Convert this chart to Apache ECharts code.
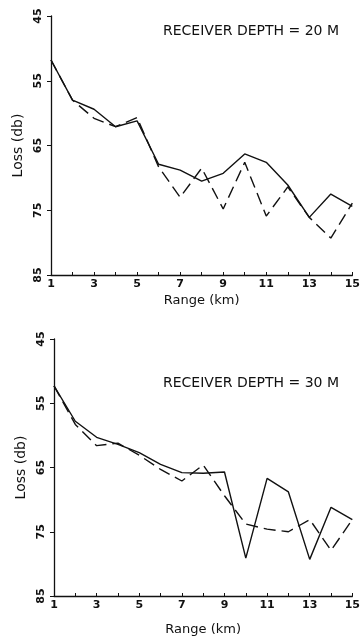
<!DOCTYPE html>
<html>
<head>
<meta charset="utf-8">
<script src="https://cdn.jsdelivr.net/npm/echarts@6/dist/echarts.min.js"></script>
<style>
  html, body { margin: 0; padding: 0; background: #fff; }
  #chart { width: 363px; height: 637px; }
</style>
</head>
<body>
<div id="chart"></div>
<script>
// дальность, км
const ranges = [1, 2, 3, 4, 5, 6, 7, 8, 9, 10, 11, 12, 13, 14, 15];

// глубина приёмника 20 м
const solid20 = [51.8, 58.0, 59.4, 62.1, 61.2, 67.9, 68.8, 70.5, 69.3, 66.3, 67.6, 71.1, 76.1, 72.5, 74.4];
const dashed20 = [51.8, 58.0, 60.8, 62.1, 60.7, 68.3, 73.0, 68.5, 74.8, 67.6, 75.9, 71.4, 76.1, 79.3, 73.9];

// глубина приёмника 30 м
const solid30 = [52.3, 57.8, 60.3, 61.4, 62.7, 64.5, 65.8, 65.9, 65.7, 79.1, 66.7, 68.8, 79.3, 71.2, 73.1];
const dashed30 = [52.3, 58.3, 61.6, 61.2, 63.1, 65.3, 67.1, 64.6, 69.4, 73.8, 74.6, 75.0, 73.1, 77.9, 73.1];

const xTickLabels = [1, 3, 5, 7, 9, 11, 13, 15];
const yTickLabels = [45, 55, 65, 75, 85];
const panelTitles = ['RECEIVER DEPTH = 20 M', 'RECEIVER DEPTH = 30 M'];

const FONT = 'DejaVu Sans';
const chart = echarts.init(document.getElementById('chart'));

const toPairs = (ys) => ranges.map((x, i) => [x, ys[i]]);

const makeX = (gridIndex, nameGap) => ({
    type: 'value',
    gridIndex,
    min: 1,
    max: 15,
    interval: 1,
    name: 'Range (km)',
    nameLocation: 'middle',
    nameGap,
    nameTextStyle: { fontFamily: FONT, fontSize: 13, color: '#111' },
    axisLine: { show: true, lineStyle: { color: '#111', width: 1.3 } },
    axisTick: { show: true, inside: true, length: 3, lineStyle: { color: '#111' } },
    axisLabel: {
        fontFamily: FONT,
        fontSize: 11,
        fontWeight: 'bold',
        color: '#111',
        margin: 4,
        formatter: (v) => xTickLabels.includes(v) ? String(v) : ''
    },
    splitLine: { show: false }
});

const makeY = (gridIndex) => ({
    type: 'value',
    gridIndex,
    inverse: true,
    min: 45,
    max: 85,
    interval: 10,
    name: 'Loss (db)',
    nameLocation: 'middle',
    nameGap: 26,
    nameTextStyle: { fontFamily: FONT, fontSize: 14, color: '#111' },
    axisLine: { show: true, lineStyle: { color: '#111', width: 1.3 } },
    axisTick: { show: true, length: 4, lineStyle: { color: '#111' } },
    axisLabel: {
        fontFamily: FONT,
        fontSize: 11,
        fontWeight: 'bold',
        color: '#111',
        rotate: 90,
        margin: 7,
        formatter: (v) => yTickLabels.includes(v) ? String(v) : ''
    },
    splitLine: { show: false }
});

const makeLine = (idx, ys, dashed) => ({
    type: 'line',
    xAxisIndex: idx,
    yAxisIndex: idx,
    data: toPairs(ys),
    symbol: 'none',
    silent: true,
    lineStyle: {
        color: '#111',
        width: 1.4,
        type: dashed ? [12, 6] : 'solid'
    }
});

const option = {
    backgroundColor: '#fff',
    animation: false,
    title: [
        { text: panelTitles[0], left: 158, top: 19 },
        { text: panelTitles[1], left: 158, top: 371 }
    ].map(t => ({
        ...t,
        textStyle: { fontFamily: FONT, fontSize: 14, fontWeight: 'normal', color: '#111' }
    })),
    grid: [
        { left: 51, top: 16, width: 306, height: 259 },
        { left: 54, top: 339, width: 306, height: 258 }
    ],
    xAxis: [makeX(0, 19), makeX(1, 27)],
    yAxis: [makeY(0), makeY(1)],
    series: [
        makeLine(0, solid20, false),
        makeLine(0, dashed20, true),
        makeLine(1, solid30, false),
        makeLine(1, dashed30, true)
    ]
};

chart.setOption(option);
</script>
</body>
</html>
